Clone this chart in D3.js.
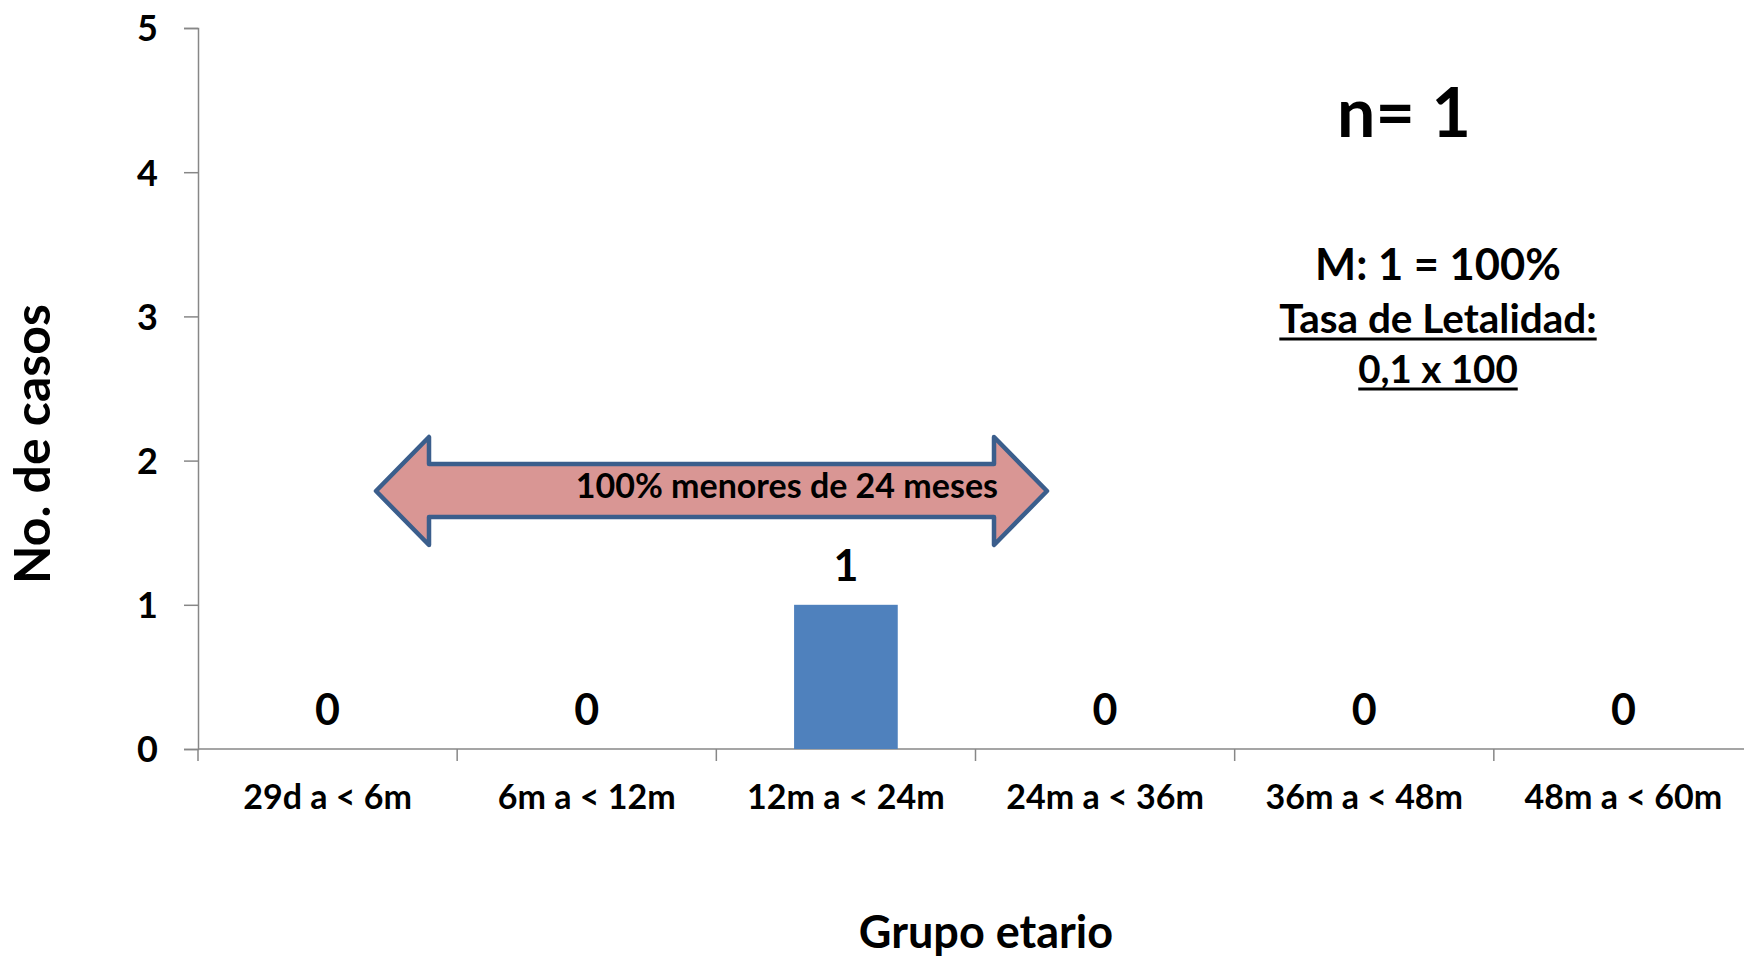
<!DOCTYPE html>
<html>
<head>
<meta charset="utf-8">
<script src="https://cdn.jsdelivr.net/npm/d3@7"></script>
<style>
  body { margin: 0; background: #fff; }
  text { font-family: Lato, "Open Sans", sans-serif; font-weight: bold; fill: #000; }
</style>
</head>
<body>
<div id="chart"></div>
<script>
const categories = ['29d a < 6m', '6m a < 12m', '12m a < 24m', '24m a < 36m', '36m a < 48m', '48m a < 60m'];
const casos = [0, 0, 1, 0, 0, 0];
const yTicks = [0, 1, 2, 3, 4, 5];
const notes = ['M: 1 = 100%', 'Tasa de Letalidad:', '0,1 x 100'];

const width = 1744, height = 962;
const svg = d3.select('#chart').append('svg')
    .attr('width', width)
    .attr('height', height);

const x = d3.scaleBand()
    .domain(categories)
    .range([198, 1753])
    .paddingInner(0.6)
    .paddingOuter(0.3);
const y = d3.scaleLinear()
    .domain([0, 5])
    .range([749, 28]);

// y axis
const yAxis = svg.append('g')
    .attr('transform', 'translate(198,0)')
    .call(d3.axisLeft(y).tickValues(yTicks).tickSize(14).tickPadding(26).tickFormat(d3.format('d')));
yAxis.select('.domain').attr('stroke', '#878787').attr('stroke-width', 1.5);
yAxis.selectAll('.tick line').attr('stroke', '#878787').attr('stroke-width', 1.5);
yAxis.selectAll('.tick text')
    .style('font-size', '36px')
    .attr('dy', '0.36em');

// x axis: ticks sit on the band edges
const xAxis = svg.append('g')
    .attr('transform', 'translate(0,749)');
xAxis.append('line')
    .attr('x1', 198).attr('x2', 1753)
    .attr('stroke', '#878787').attr('stroke-width', 1.5);
const step = x.step();
d3.range(categories.length + 1).forEach(i => {
    const xi = 198 + i * step;
    xAxis.append('line')
        .attr('x1', xi).attr('x2', xi)
        .attr('y1', 0).attr('y2', 12)
        .attr('stroke', '#878787').attr('stroke-width', 1.5);
});
xAxis.selectAll('text.cat')
    .data(categories)
    .join('text')
    .attr('class', 'cat')
    .attr('x', d => x(d) + x.bandwidth() / 2)
    .attr('y', 60)
    .attr('text-anchor', 'middle')
    .style('font-size', '34px')
    .text(d => d);

// bars
const rows = categories.map((c, i) => ({ cat: c, v: casos[i] }));
svg.append('g').selectAll('rect')
    .data(rows)
    .join('rect')
    .attr('x', d => x(d.cat))
    .attr('y', d => y(d.v))
    .attr('width', x.bandwidth())
    .attr('height', d => y(0) - y(d.v))
    .attr('fill', '#4F81BD');

svg.append('g').selectAll('text')
    .data(rows)
    .join('text')
    .attr('x', d => x(d.cat) + x.bandwidth() / 2)
    .attr('y', d => y(d.v) - 24)
    .attr('text-anchor', 'middle')
    .style('font-size', '43px')
    .text(d => d.v);

// axis titles
svg.append('text')
    .attr('transform', 'translate(50,444) rotate(-90)')
    .attr('text-anchor', 'middle')
    .style('font-size', '50px')
    .text('No. de casos');
svg.append('text')
    .attr('x', 986)
    .attr('y', 948)
    .attr('text-anchor', 'middle')
    .style('font-size', '45px')
    .text('Grupo etario');

// double arrow annotation
const ar = { x0: 376, x1: 1047, hx0: 429, hx1: 994, yc: 491, ht: 437, hb: 545, st: 464, sb: 517 };
const arrowPath = [
    [ar.x0, ar.yc], [ar.hx0, ar.ht], [ar.hx0, ar.st], [ar.hx1, ar.st], [ar.hx1, ar.ht],
    [ar.x1, ar.yc], [ar.hx1, ar.hb], [ar.hx1, ar.sb], [ar.hx0, ar.sb], [ar.hx0, ar.hb]
];
svg.append('path')
    .attr('d', d3.line()(arrowPath) + 'Z')
    .attr('fill', '#D99694')
    .attr('stroke', '#3B5E8C')
    .attr('stroke-width', 4.5)
    .attr('stroke-linejoin', 'round');
svg.append('text')
    .attr('x', 998)
    .attr('y', 498)
    .attr('text-anchor', 'end')
    .style('font-size', '34px')
    .text('100% menores de 24 meses');

// summary text
svg.append('text')
    .attr('x', 1404)
    .attr('y', 137)
    .attr('text-anchor', 'middle')
    .style('font-size', '68px')
    .text('n= 1');

const noteX = 1438;
const noteY = [280, 333, 383];
const noteSize = [43.5, 40.5, 38.5];
notes.forEach((t, i) => {
    const txt = svg.append('text')
        .attr('x', noteX)
        .attr('y', noteY[i])
        .attr('text-anchor', 'middle')
        .style('font-size', noteSize[i] + 'px')
        .text(t);
    if (i > 0) {
        const w = txt.node().getComputedTextLength();
        svg.append('line')
            .attr('x1', noteX - w / 2).attr('x2', noteX + w / 2)
            .attr('y1', noteY[i] + 6).attr('y2', noteY[i] + 6)
            .attr('stroke', '#000').attr('stroke-width', 3);
    }
});
</script>
</body>
</html>
